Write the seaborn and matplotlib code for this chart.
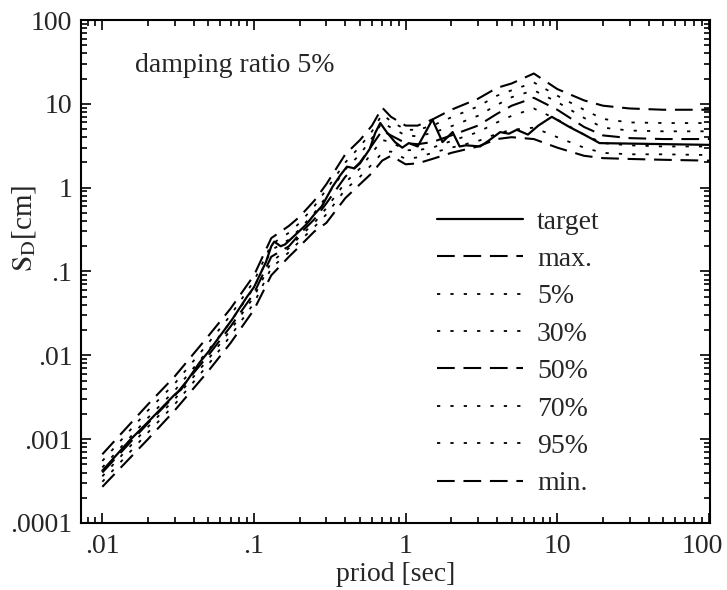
# ============================================
# RESPONSE SPECTRA (DISPLACEMENT) - SEABORN
# ============================================

import numpy as np
import pandas as pd
import seaborn as sns
import matplotlib
matplotlib.use("Agg")
import matplotlib.pyplot as plt
import matplotlib.transforms as mtransforms
from matplotlib.ticker import LogLocator, NullFormatter

# ============================================
# DATA
# ============================================

# target spectrum
target_period = [0.01, 0.015, 0.02, 0.03, 0.033, 0.044, 0.05, 0.072, 0.09, 0.1,
                 0.12, 0.13, 0.136, 0.15, 0.16, 0.19, 0.22, 0.25, 0.28, 0.33,
                 0.37, 0.41, 0.46, 0.5, 0.58, 0.63, 0.68, 0.75, 0.85, 0.95,
                 1.05, 1.2, 1.38, 1.5, 1.6, 1.75, 2.04, 2.27, 2.5, 3.1,
                 3.5, 4.2, 4.8, 5.4, 6.4, 7.5, 9.2, 12, 15, 19, 100]
target_sd = [4.2e-4, 9.5e-4, 1.6e-3, 3.4e-3, 3.9e-3, 8.3e-3, 0.011, 0.027, 0.05, 0.065,
             0.13, 0.2, 0.227, 0.2, 0.21, 0.28, 0.36, 0.48, 0.6, 1.03,
             1.4, 1.78, 1.7, 1.95, 2.9, 4.5, 5.9, 4.6, 3.5, 3.0,
             3.4, 3.1, 4.9, 6.5, 5.0, 3.5, 4.6, 3.1, 3.2, 3.1,
             3.6, 4.6, 4.4, 4.9, 4.3, 5.5, 7.0, 5.3, 4.3, 3.4, 3.24]

# simulated spectra statistics
period = [0.01, 0.02, 0.03, 0.05, 0.07, 0.1, 0.13, 0.17, 0.2, 0.25,
          0.3, 0.4, 0.5, 0.6, 0.7, 0.8, 1.0, 1.2, 1.5, 2,
          3, 4, 5, 7, 10, 15, 20, 30, 50, 100]

sd_max = [6.6e-4, 2.6e-3, 5.6e-3, 0.017, 0.036, 0.09, 0.25, 0.35, 0.45, 0.7,
          1.1, 2.5, 3.7, 5.5, 9.0, 7.0, 5.5, 5.5, 6.5, 8.5,
          11.5, 15.5, 17.5, 23, 15, 11, 9.5, 8.8, 8.5, 8.5]
sd_95 = [5.5e-4, 2.2e-3, 4.6e-3, 0.014, 0.03, 0.077, 0.21, 0.29, 0.38, 0.6,
         0.95, 2.0, 3.1, 4.7, 7.5, 6.2, 4.9, 4.9, 5.5, 6.9,
         9.3, 12.5, 14.5, 18, 12.5, 8.5, 6.6, 6.0, 5.9, 5.9]
sd_70 = [4.6e-4, 1.8e-3, 3.8e-3, 0.0115, 0.025, 0.064, 0.18, 0.24, 0.32, 0.5,
         0.78, 1.65, 2.5, 3.9, 6.0, 5.2, 4.2, 4.1, 4.5, 5.4,
         7.2, 9.7, 12, 14.5, 10.5, 6.8, 5.2, 4.8, 4.7, 4.7]
sd_50 = [4.0e-4, 1.55e-3, 3.3e-3, 0.010, 0.022, 0.055, 0.15, 0.2, 0.28, 0.42,
         0.65, 1.35, 2.0, 3.2, 4.8, 4.2, 3.4, 3.3, 3.5, 4.2,
         5.5, 7.6, 9.5, 11.8, 8.5, 5.3, 4.2, 3.9, 3.8, 3.8]
sd_30 = [3.6e-4, 1.4e-3, 3.0e-3, 9e-3, 0.02, 0.05, 0.13, 0.19, 0.26, 0.38,
         0.57, 1.15, 1.7, 2.6, 3.7, 3.5, 2.8, 2.8, 3.0, 3.6,
         4.6, 6.0, 7.2, 8.8, 6.5, 4.3, 3.4, 3.2, 3.1, 3.1]
sd_5 = [3.1e-4, 1.2e-3, 2.6e-3, 7.8e-3, 0.017, 0.042, 0.11, 0.17, 0.23, 0.34,
        0.48, 0.95, 1.35, 1.9, 2.6, 2.7, 2.2, 2.3, 2.6, 3.0,
        3.6, 4.4, 4.9, 5.2, 4.0, 3.0, 2.6, 2.5, 2.5, 2.45]
sd_min = [2.7e-4, 1.0e-3, 2.2e-3, 6.5e-3, 0.014, 0.035, 0.09, 0.15, 0.2, 0.3,
          0.38, 0.75, 1.1, 1.5, 2.1, 2.4, 1.9, 1.95, 2.2, 2.6,
          3.1, 3.8, 4.0, 3.8, 3.0, 2.4, 2.25, 2.2, 2.15, 2.1]

x_ticks = [0.01, 0.1, 1, 10, 100]
x_tick_labels = [".01", ".1", "1", "10", "100"]
y_ticks = [1e-4, 1e-3, 1e-2, 1e-1, 1, 10, 100]
y_tick_labels = [".0001", ".001", ".01", ".1", "1", "10", "100"]

# ============================================
# STYLE
# ============================================

sns.set_theme(style="ticks")
plt.rcParams["font.family"] = ["Liberation Serif", "DejaVu Serif"]
plt.rcParams["mathtext.fontset"] = "stix"

dashed = (0, (8.5, 4.2))
dotted = (0, (1.8, 5.6))

series = [
    ("max.", sd_max, dashed),
    ("5%", sd_5, dotted),
    ("30%", sd_30, dotted),
    ("50%", sd_50, dashed),
    ("70%", sd_70, dotted),
    ("95%", sd_95, dotted),
    ("min.", sd_min, dashed),
]

# ============================================
# PLOT
# ============================================

fig = plt.figure(figsize=(7.27, 5.9), dpi=100)
ax = fig.add_axes([0.111, 0.1136, 0.866, 0.8525])

sns.lineplot(x=target_period, y=target_sd, ax=ax, color="black",
             linewidth=1.6, linestyle="-", label="target", estimator=None)

for name, values, ls in series:
    sns.lineplot(x=period, y=values, ax=ax, color="black",
                 linewidth=1.5 if ls == dashed else 1.3,
                 linestyle=ls, label=name, estimator=None)

ax.set_xscale("log")
ax.set_yscale("log")
ax.set_xlim(0.0072, 102)
ax.set_ylim(1e-4, 100)

ax.set_xticks(x_ticks, x_tick_labels)
ax.set_yticks(y_ticks, y_tick_labels)
ax.xaxis.set_minor_locator(LogLocator(base=10, subs=np.arange(2, 10)))
ax.yaxis.set_minor_locator(LogLocator(base=10, subs=np.arange(2, 10)))
ax.xaxis.set_minor_formatter(NullFormatter())
ax.yaxis.set_minor_formatter(NullFormatter())

ax.tick_params(which="both", direction="in", top=True, right=True,
               color="black", width=1.2, labelsize=20)
ax.tick_params(axis="y", pad=6)
ax.tick_params(axis="x", pad=8)
ax.tick_params(which="major", length=7)
ax.tick_params(which="minor", length=4)

# keep the last x tick label inside the picture
last = ax.get_xticklabels()[-1]
shift = mtransforms.ScaledTranslation(-5 / 72, 0, fig.dpi_scale_trans)
last.set_transform(last.get_transform() + shift)

for sp in ax.spines.values():
    sp.set_linewidth(1.5)
    sp.set_color("black")

ax.set_xlabel("priod [sec]", fontsize=20, labelpad=2)
ax.set_ylabel(r"$\mathrm{S_D}$[cm]", fontsize=21)
ax.yaxis.set_label_coords(-0.068, 0.586)

ax.text(0.086, 0.91, "damping ratio 5%", transform=ax.transAxes,
        fontsize=20, va="center", ha="left")

ax.legend(loc="upper left", bbox_to_anchor=(0.566, 0.624), frameon=False,
          fontsize=20, handlelength=3.1, handletextpad=0.5,
          labelspacing=0.43, borderpad=0, borderaxespad=0)

fig.savefig("out.png", dpi=100)
